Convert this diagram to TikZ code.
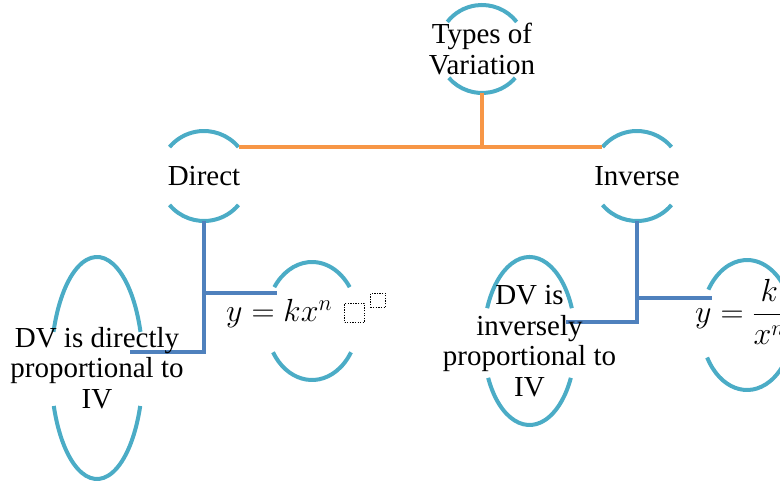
\RequirePackage{fix-cm}
\documentclass[tikz,border=0pt]{standalone}
\usepackage{amsmath}
\usepackage{fontspec}
\setmainfont{Liberation Serif}
\usepackage{tikz}
\usetikzlibrary{shapes.geometric, calc}

\definecolor{ringblue}{RGB}{75,172,198}
\definecolor{treeorange}{RGB}{247,150,70}
\definecolor{treeblue}{RGB}{79,129,189}

\begin{document}
\begin{tikzpicture}[x=1pt, y=1pt,
    oval/.style={ellipse, draw=none, inner sep=0pt},
    ring/.style={ringblue, line width=4pt},
    orangeline/.style={treeorange, line width=4pt},
    blueline/.style={treeblue, line width=4pt},
    lbl/.style={align=center, inner sep=0pt, font=\fontsize{29}{30.5}\selectfont},
    eqlbl/.style={inner sep=0pt, anchor=base west, font=\fontsize{32}{34}\selectfont},
    phbox/.style={draw, dash pattern=on 1.3pt off 1.3pt, line width=1.3pt, inner sep=0pt}]
    \useasboundingbox (0,0) rectangle (780,482);
    \clip (0,0) rectangle (780,482);

    % Ovals (outline only, drawn as open arcs below)
    \node[oval, minimum width=88pt, minimum height=88pt] (types) at (482,433) {};
    \node[oval, minimum width=90pt, minimum height=90pt] (direct) at (204,306) {};
    \node[oval, minimum width=90pt, minimum height=90pt] (inverse) at (637,306) {};
    \node[oval, minimum width=92pt, minimum height=118pt] (direq) at (312,161) {};
    \node[oval, minimum width=92pt, minimum height=222pt] (dirdef) at (97,114) {};
    \node[oval, minimum width=92pt, minimum height=168pt] (invdef) at (529.5,141) {};
    \node[oval, minimum width=92pt, minimum height=130pt] (inveq) at (747,157) {};

    % Open arcs above and below each text
    \foreach \n/\rx/\ry/\a/\b in {types/44/44/38/41, direct/45/45/40/40, inverse/45/45/40/40,
        direq/46/59/35/32, dirdef/46/111/19/20, invdef/46/84/23/26, inveq/46/65/33/30} {
      \pgfmathsetmacro{\tEnd}{180-\a}
      \pgfmathsetmacro{\bStart}{180+\b}
      \pgfmathsetmacro{\bEnd}{360-\b}
      \draw[ring] (\n.center) ++(\a:{\rx} and {\ry}) arc[start angle=\a, end angle=\tEnd, x radius=\rx, y radius=\ry];
      \draw[ring] (\n.center) ++(\bStart:{\rx} and {\ry}) arc[start angle=\bStart, end angle=\bEnd, x radius=\rx, y radius=\ry];
    }

    % Top level connector
    \draw[orangeline] (types.south) -- (types.south |- direct.40);
    \draw[orangeline] (direct.40) -- (inverse.140);

    % Direct branch
    \coordinate (dirdef-in) at (130,130);
    \coordinate (direq-in) at (277,189);
    \draw[blueline] (direct.south) |- (dirdef-in);
    \draw[blueline] (direct.south |- direq-in) -- (direq-in);

    % Inverse branch
    \coordinate (invdef-in) at (566,160);
    \coordinate (inveq-in) at (712,184);
    \draw[blueline] (inverse.south) |- (invdef-in);
    \draw[blueline] (inverse.south |- inveq-in) -- (inveq-in);

    % Texts
    \node[lbl] (types-t) at (types.center) {Types of\\Variation};
    \node[lbl] (direct-t) at (direct.center) {Direct};
    \node[lbl] (inverse-t) at (inverse.center) {Inverse};
    \node[lbl] (dirdef-t) at (dirdef.center) {DV is directly\\proportional to\\IV};
    \node[lbl] (invdef-t) at (invdef.center) {DV is\\inversely\\proportional to\\IV};
    \node[eqlbl] (direq-t) at (226,160) {$y = kx^n$};
    \node[eqlbl] (inveq-t) at (695,159) {$y = \dfrac{k}{x^n}$};

    % Empty placeholders after the equation
    \node[phbox, minimum width=20pt, minimum height=19pt] (ph-a) at (354.5,169) {};
    \node[phbox, minimum width=15pt, minimum height=14pt] (ph-b) at (378,181.5) {};
  \end{tikzpicture}
\end{document}
